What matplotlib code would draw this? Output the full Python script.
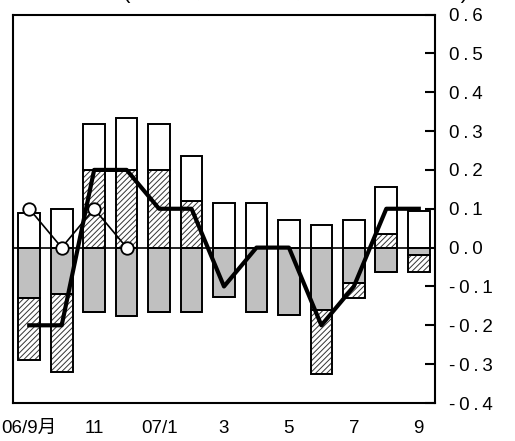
import numpy as np
import matplotlib.pyplot as plt

plt.rcParams['font.family'] = ['Liberation Sans', 'Noto Sans CJK JP', 'DejaVu Sans']
plt.rcParams['hatch.linewidth'] = 0.7

# months 06/9 .. 07/9
labels = ['06/9月', '', '11', '', '07/1', '', '3', '', '5', '', '7', '', '9']
white = [0.09, 0.10, 0.117, 0.133, 0.117, 0.117, 0.116, 0.116, 0.072, 0.057, 0.072, 0.119, 0.095]
hatched = [-0.16, -0.20, 0.20, 0.20, 0.20, 0.12, 0.0, 0.0, 0.0, -0.165, -0.04, 0.036, -0.044]
gray = [-0.13, -0.12, -0.167, -0.175, -0.167, -0.167, -0.128, -0.167, -0.174, -0.16, -0.09, -0.062, -0.02]
total = [-0.2, -0.2, 0.2, 0.2, 0.1, 0.1, -0.1, 0.0, 0.0, -0.2, -0.1, 0.1, 0.1]
circles = [0.1, 0.0, 0.1, 0.0]
yticks = [-0.4, -0.3, -0.2, -0.1, 0.0, 0.1, 0.2, 0.3, 0.4, 0.5, 0.6]

x = np.arange(len(labels))
white = np.array(white)
hatched = np.array(hatched)
gray = np.array(gray)

fig = plt.figure(figsize=(5.15, 4.41), dpi=100)
ax = fig.add_axes([13 / 515, 38 / 441, 422 / 515, 388.5 / 441])

w = 0.67
lw = 1.4
# positive side: hatched from 0, white stacked on top
hpos = np.where(hatched > 0, hatched, 0)
ax.bar(x, hpos, w, color='white', edgecolor='#333333', hatch='//////', linewidth=0, zorder=2)
ax.bar(x, hpos, w, color='none', edgecolor='black', linewidth=lw, zorder=3)
ax.bar(x, white, w, bottom=hpos, color='white', edgecolor='black', linewidth=lw, zorder=3)
# negative side: gray from 0, hatched below it
ax.bar(x, gray, w, color='#c0c0c0', edgecolor='black', linewidth=lw, zorder=3)
hneg = np.where(hatched < 0, hatched, 0)
ax.bar(x, hneg, w, bottom=gray, color='white', edgecolor='#333333', hatch='//////', linewidth=0, zorder=2)
ax.bar(x, hneg, w, bottom=gray, color='none', edgecolor='black', linewidth=lw, zorder=3)

ax.axhline(0, color='black', linewidth=1.2, zorder=4)

ax.plot(x, total, color='black', linewidth=3, zorder=5)
ax.plot(x[:len(circles)], circles, color='black', linewidth=1.2, marker='o',
        markersize=9, markerfacecolor='white', markeredgecolor='black',
        markeredgewidth=1.3, zorder=6)

ax.set_xlim(-0.5, 12.5)
ax.set_ylim(-0.4, 0.6)
ax.set_xticks(x)
ax.set_xticklabels(labels, fontsize=13.5)
ax.tick_params(axis='x', length=0, pad=12)
ax.yaxis.tick_right()
ax.set_yticks(yticks)
ax.set_yticklabels(['\u2009'.join('%.1f' % v) for v in yticks], fontsize=13.5)
ax.tick_params(axis='y', direction='in', length=7, width=1.5, pad=10)
for s in ax.spines.values():
    s.set_linewidth(1.5)

fig.text(296 / 515, 1.0 + 21 / 441, '(前年同月比、寄与度、%ポイント)', ha='center', va='top',
         fontsize=16)

fig.savefig('out.png', dpi=100)
